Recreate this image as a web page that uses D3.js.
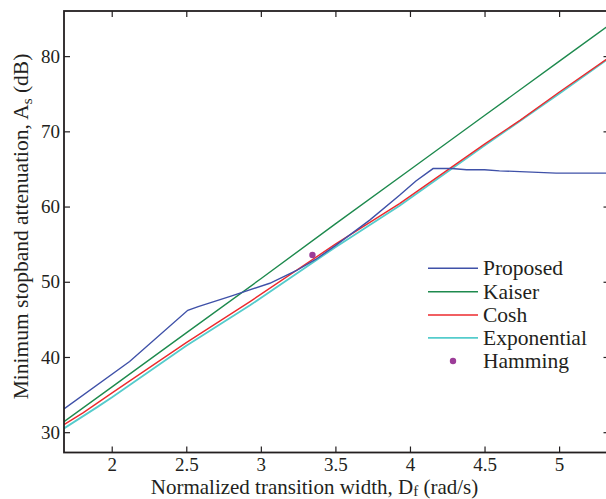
<!DOCTYPE html>
<html>
<head>
<meta charset="utf-8">
<script src="https://cdn.jsdelivr.net/npm/d3@7"></script>
<style>
  html, body { margin: 0; padding: 0; background: #fff; }
  svg { display: block; }
  text { font-family: "Liberation Serif", "Times New Roman", serif; fill: #231f20; }
</style>
</head>
<body>
<svg id="chart" width="606" height="499"></svg>
<script>
// ---- data ----
const xTicks = [2, 2.5, 3, 3.5, 4, 4.5, 5];
const xTickLabels = ["2", "2.5", "3", "3.5", "4", "4.5", "5"];
const yTicks = [30, 40, 50, 60, 70, 80];
const yTickLabels = ["30", "40", "50", "60", "70", "80"];

const proposedX = [1.68, 2.12, 2.51, 2.58, 2.80, 3.06, 3.24, 3.37, 3.50, 3.73, 3.93, 4.04, 4.155, 4.28, 4.38, 4.50, 4.60, 4.98, 5.34];
const proposedY = [33.1, 39.4, 46.2, 46.7, 48.1, 49.8, 51.5, 53.0, 54.8, 58.2, 61.5, 63.4, 65.05, 65.05, 64.9, 64.9, 64.75, 64.45, 64.45];

const kaiserX = [1.68, 2, 2.5, 3, 3.5, 4, 4.5, 5, 5.34];
const kaiserY = [31.4, 36.0, 43.2, 50.4, 57.7, 64.9, 72.1, 79.3, 84.2];

const coshX = [1.68, 1.81, 2, 2.5, 2.93, 3.5, 3.93, 4.5, 4.74, 5, 5.34];
const coshY = [31.0, 32.6, 35.2, 41.9, 47.4, 55.0, 60.4, 68.3, 71.5, 75.2, 79.9];

const expX = [1.68, 1.9, 2, 2.5, 2.93, 3.5, 3.93, 4.5, 5, 5.34];
const expY = [30.5, 33.3, 34.6, 41.5, 46.9, 54.6, 60.1, 68.1, 75.0, 79.8];

const hammingX = [3.346];
const hammingY = [53.55];

const seriesNames = ["Proposed", "Kaiser", "Cosh", "Exponential", "Hamming"];
const seriesColors = ["#3f51a8", "#1e8a4e", "#ec2a2e", "#55cccc", "#9c3c98"];

// ---- layout ----
const svg = d3.select("#chart");
const L = 64, T = 11, R = 609.5, B = 452.5;
const x = d3.scaleLinear().domain([1.68, 5.338]).range([L, R]);
const y = d3.scaleLinear().domain([27.3, 86.0]).range([B, T]);

svg.append("clipPath").attr("id", "clip")
  .append("rect").attr("x", L).attr("y", T).attr("width", R - L).attr("height", B - T);

const line = d3.line().x(d => x(d[0])).y(d => y(d[1]));
const zip = (a, b) => a.map((v, i) => [v, b[i]]);

const g = svg.append("g").attr("clip-path", "url(#clip)");
const lineSeries = [
  [proposedX, proposedY, 0, 1.4],
  [kaiserX, kaiserY, 1, 1.4],
  [coshX, coshY, 2, 1.4],
  [expX, expY, 3, 1.8]
];
[3, 2, 1, 0].forEach(k => {
  const s = lineSeries[k];
  g.append("path").datum(zip(s[0], s[1]))
    .attr("fill", "none").attr("stroke", seriesColors[s[2]])
    .attr("stroke-width", s[3]).attr("d", line);
});
g.selectAll("circle.ham").data(zip(hammingX, hammingY)).enter()
  .append("circle").attr("class", "ham")
  .attr("cx", d => x(d[0])).attr("cy", d => y(d[1])).attr("r", 3.2)
  .attr("fill", seriesColors[4]);

// ---- axes ----
const tickLen = 6;
const axStyle = sel => {
  sel.select(".domain").remove();
  sel.selectAll(".tick line").attr("stroke", "#231f20").attr("stroke-width", 1.2);
  sel.selectAll("text").style("font-family", '"Liberation Serif", serif')
    .style("font-size", "19px").attr("fill", "#231f20");
};
svg.append("g").attr("transform", `translate(0,${B})`)
  .call(d3.axisBottom(x).tickValues(xTicks).tickFormat((d, i) => xTickLabels[i])
    .tickSizeInner(-tickLen).tickSizeOuter(0).tickPadding(5))
  .call(axStyle);
svg.append("g").attr("transform", `translate(0,${T})`)
  .call(d3.axisTop(x).tickValues(xTicks).tickFormat("")
    .tickSizeInner(-tickLen).tickSizeOuter(0))
  .call(axStyle);
svg.append("g").attr("transform", `translate(${L},0)`)
  .call(d3.axisLeft(y).tickValues(yTicks).tickFormat((d, i) => yTickLabels[i])
    .tickSizeInner(-tickLen).tickSizeOuter(0).tickPadding(4))
  .call(axStyle);
svg.append("g").attr("transform", `translate(${R},0)`)
  .call(d3.axisRight(y).tickValues(yTicks).tickFormat("")
    .tickSizeInner(-tickLen).tickSizeOuter(0))
  .call(axStyle);

svg.append("rect").attr("x", L).attr("y", T).attr("width", R - L).attr("height", B - T)
  .attr("fill", "none").attr("stroke", "#231f20").attr("stroke-width", 1.8);

// ---- axis titles ----
const xt = svg.append("text").attr("x", 314.5).attr("y", 494)
  .attr("text-anchor", "middle").style("font-size", "21px");
xt.append("tspan").text("Normalized transition width, D");
xt.append("tspan").attr("baseline-shift", "-15%").style("font-size", "15px").text("f");
xt.append("tspan").text(" (rad/s)");

const yt = svg.append("text").attr("transform", "translate(28,226.5) rotate(-90)")
  .attr("text-anchor", "middle").style("font-size", "21.5px");
yt.append("tspan").text("Minimum stopband attenuation, A");
yt.append("tspan").attr("baseline-shift", "-25%").style("font-size", "15px").text("s");
yt.append("tspan").text(" (dB)");

// ---- legend ----
const lg = svg.append("g");
const rowY = [268.3, 291.7, 315, 337.8, 361];
seriesNames.forEach((name, i) => {
  if (i < 4) {
    lg.append("line").attr("x1", 428).attr("x2", 478).attr("y1", rowY[i]).attr("y2", rowY[i])
      .attr("stroke", seriesColors[i]).attr("stroke-width", i === 3 ? 1.8 : 1.4);
  } else {
    lg.append("circle").attr("cx", 453).attr("cy", rowY[i]).attr("r", 3.2).attr("fill", seriesColors[i]);
  }
  lg.append("text").attr("x", 483).attr("y", rowY[i] + 7)
    .style("font-size", "21.5px").text(name);
});
</script>
</body>
</html>
